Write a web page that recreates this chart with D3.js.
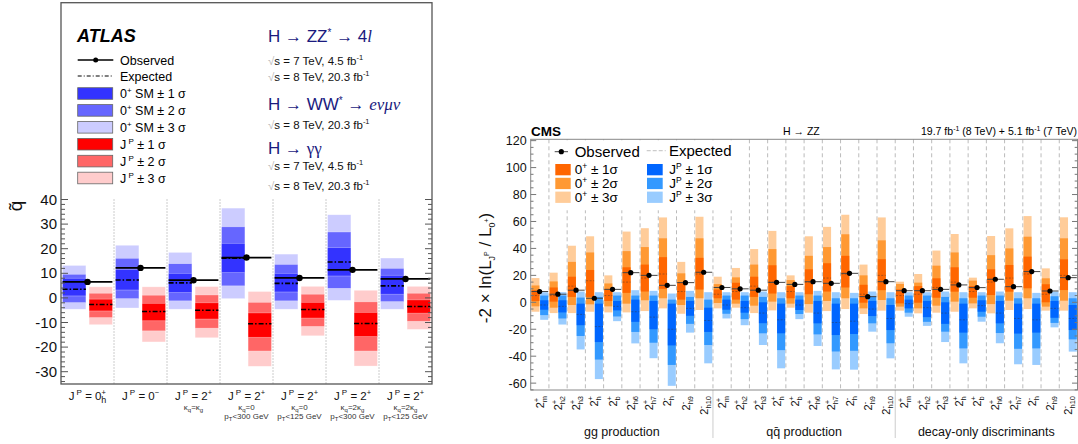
<!DOCTYPE html>
<html><head><meta charset="utf-8">
<script src="https://cdn.jsdelivr.net/npm/d3@7"></script>
<style>
body{margin:0;background:#fff;}
svg{display:block;font-family:"Liberation Sans",Arial,Helvetica,sans-serif;}
</style></head>
<body><svg id="c" width="1078" height="444"></svg>
<script>
// ---------------- ATLAS data ----------------
const atlasCats = ["0h+","0-","2+ kq=kg","2+ kq=0 pT<300","2+ kq=0 pT<125","2+ kq=2kg pT<300","2+ kq=2kg pT<125"];
const atlasLine2 = ["","","κq=κg","κq=0","κq=0","κq=2κg","κq=2κg"];
const atlasLine3 = ["","","","pT<300 GeV","pT<125 GeV","pT<300 GeV","pT<125 GeV"];
const atlasObs   = [6.5, 12.2, 7.2, 16.4, 8.1, 11.4, 7.7];
const atlasSMExp = [3.5, 7.3, 6.1, 16.1, 5.9, 14.6, 4.9];
const atlasSM1 = [[0.8,8.0],[3.2,11.6],[2.2,10.0],[10.3,22.2],[2.4,10.0],[8.9,20.4],[1.5,9.2]];
const atlasSM2 = [[-1.9,9.6],[-0.3,16.1],[-1.2,13.9],[4.9,28.9],[-1.2,13.6],[3.9,26.8],[-1.5,12.0]];
const atlasSM3 = [[-4.6,13.2],[-4.1,21.4],[-4.6,18.5],[-0.3,36.5],[-4.6,17.8],[-1.0,33.8],[-4.6,16.2]];
const atlasAltExp = [-2.7, -5.5, -5.0, -10.5, -4.7, -10.4, -3.5];
const atlasAlt1 = [[-5.3,-0.5],[-9.3,-2.2],[-8.6,-2.0],[-16.0,-6.1],[-8.2,-1.8],[-15.7,-5.9],[-6.2,-0.8]];
const atlasAlt2 = [[-8.0,1.9],[-13.4,1.1],[-12.3,1.2],[-21.6,-1.8],[-11.6,1.5],[-21.6,-1.6],[-9.5,1.9]];
const atlasAlt3 = [[-10.9,4.5],[-17.9,4.5],[-16.2,4.6],[-27.8,2.6],[-15.4,4.7],[-27.7,3.1],[-12.8,4.7]];
const atlasTicks = [-30,-20,-10,0,10,20,30,40];

// ---------------- CMS data ----------------
const cmsSign = ["+","+","+","+","+","+","+","-","-","-"];
const cmsSub  = ["m","h2","h3","h","b","h6","h7","h","h9","h10"];
const cmsProd = ["gg production","qq\u0304 production","decay-only discriminants"];
const cmsObs = [8,6,9,3,9.6,22,20,12.6,14.6,22.3, 11,10,9,14.8,13.3,15.3,14.1,21.5,4.2,15.3, 8.6,8.6,9.6,12.9,10.9,17.1,11.6,22.8,8.4,18.3];
const cmsSMExp = [5,5,12,16,5,15,18,21,8,21, 6,8,12,15,8,15,18,21,6,20, 5,6,11,15,8,15,18,21,6,20];
const cmsSM1 = [[1,9],[0.5,11],[4,19],[4,24],[1,10],[7,26],[8,28],[10,33.5],[2,15],[9.5,33],
                [3,9.5],[2,14.5],[4,19],[6.5,27.5],[3,12],[6,24.5],[8,29],[11,34.5],[-0.3,13],[9,32],
                [-0.8,9.6],[-0.3,12],[3.4,17.8],[7.9,26],[3.4,12.1],[5.4,24.5],[7.9,27.7],[10.4,33.9],[0,13.4],[9.1,31.9]];
const cmsSM2 = [[-3,12.5],[-4,15.5],[-2,30],[-1.5,37],[-3,14],[-1,38],[1.5,41],[3,47.5],[-2,21.5],[3,47.5],
                [-0.5,13.5],[-1,18.5],[-2.5,28],[0.5,39.5],[-1,16.5],[-1.3,34.5],[1,41],[3,50.5],[-4.5,20],[1.7,46],
                [-3.2,13.6],[-4.5,14.6],[-2.5,27.2],[0.5,37],[-0.8,16.1],[-1.3,35],[1.2,40],[3,48.7],[-3.2,17.8],[1.2,47.5]];
const cmsSM3 = [[-7,18],[-8,22],[-8,42],[-7,49],[-7.5,20],[-7.5,52.5],[-6.5,55],[-4.5,63],[-8.5,30],[-5.7,63.5],
                [-4.5,19],[-4,25.5],[-8,39.5],[-6,53],[-4,20],[-7.7,49],[-6.5,56],[-5,65],[-8.7,28],[-6.2,63],
                [-6.2,15.3],[-8.2,21],[-7.7,38.4],[-7,50.7],[-4.5,18.3],[-8.2,49.2],[-5.7,54.9],[-5,64],[-6.2,25.2],[-6.2,63.1]];
const cmsAltExp = [-2,-3,-9,-18,-3,-7,-11,-20,-4.5,-13.5, -2,-4,-8,-13,-2,-8,-15,-14,-5,-12, -1,-4,-8,-13,-2.5,-8,-12,-13,-4.5,-12];
const cmsAlt1 = [[-5.5,1.5],[-7.5,1.5],[-17,-1],[-29.5,-1],[-6,1],[-14.5,2],[-20,1],[-32,-1],[-10,1],[-22,-4],
                 [-5.5,2],[-7.7,1],[-15.5,0],[-23,-1],[-5.7,2],[-15.6,1],[-24.3,-1],[-23.5,-1],[-10.2,1],[-20.6,-2],
                 [-4.5,2],[-11,1],[-16,0],[-22.5,-1],[-7,1.5],[-15.6,1],[-23.2,-1],[-22.5,-1],[-11.5,1],[-20.6,-2]];
const cmsAlt2 = [[-9.5,5],[-12,5],[-25,3.5],[-42.5,4],[-10.5,5],[-22,5],[-30,5],[-46.5,2],[-16,4],[-31.7,2],
                 [-8.5,5],[-12.5,5],[-23,4],[-35.5,3],[-8.7,5],[-23.8,5],[-36.5,3],[-36,3],[-15.6,4.5],[-30.4,3],
                 [-7.7,5],[-14.5,5],[-21.8,4],[-34.2,3],[-10.7,5],[-22.8,5],[-34.5,3],[-34.2,3],[-15.3,4.5],[-27.5,3]];
const cmsAlt3 = [[-13,7.5],[-16.5,7.5],[-35,8],[-57,7.5],[-14,7.5],[-30.5,9],[-41.5,8.5],[-62,6.5],[-22.5,8.5],[-45.3,7.5],
                 [-12,7.5],[-17,7.5],[-31.7,8],[-49,7.5],[-12.5,7.5],[-32.4,8.5],[-49.8,7.5],[-50,7],[-21.8,8],[-41.6,7.5],
                 [-10.7,7.5],[-17.5,7.5],[-29.5,8],[-45.3,7.5],[-14.4,7.5],[-30.4,8],[-46,7.5],[-46.5,7],[-18.6,8],[-36.6,7.5]];
const cmsTicks = [-60,-40,-20,0,20,40,60,80,100,120];

// ---------------- drawing ----------------
const svg = d3.select("#c");

/* ======== ATLAS panel ======== */
const aL=61, aR=432, aT=2.7, aB=384;
const ay = d3.scaleLinear().domain([-35,120]).range([aB,aT]);
const ax = d3.scaleBand().domain(d3.range(atlasCats.length)).range([aL,aR]);
const aw = ax.bandwidth();
const A = svg.append("g");

const smCols = ["#ccccff","#6666ff","#3333ff"], altCols = ["#ffcccc","#ff6666","#ff0000"];
const smBands=[atlasSM3,atlasSM2,atlasSM1], altBands=[atlasAlt3,atlasAlt2,atlasAlt1];
atlasCats.forEach((c,i)=>{
  const x0 = ax(i);
  const bx = x0+0.03*aw, rx = x0+0.53*aw, bw = 0.44*aw;
  smBands.forEach((b,k)=>{
    A.append("rect").attr("x",bx).attr("width",bw).attr("y",ay(b[i][1])).attr("height",ay(b[i][0])-ay(b[i][1]))
      .attr("fill",smCols[k]).attr("stroke","#ffffff").attr("stroke-opacity",0.5).attr("stroke-width",0.6);
  });
  altBands.forEach((b,k)=>{
    A.append("rect").attr("x",rx).attr("width",bw).attr("y",ay(b[i][1])).attr("height",ay(b[i][0])-ay(b[i][1]))
      .attr("fill",altCols[k]).attr("stroke","#ffffff").attr("stroke-opacity",0.5).attr("stroke-width",0.6);
  });
  A.append("line").attr("x1",bx).attr("x2",bx+bw).attr("y1",ay(atlasSMExp[i])).attr("y2",ay(atlasSMExp[i]))
    .attr("stroke","#000").attr("stroke-width",1.6).attr("stroke-dasharray","5,2,1.5,2");
  A.append("line").attr("x1",rx).attr("x2",rx+bw).attr("y1",ay(atlasAltExp[i])).attr("y2",ay(atlasAltExp[i]))
    .attr("stroke","#000").attr("stroke-width",1.6).attr("stroke-dasharray","5,2,1.5,2");
  A.append("line").attr("x1",bx).attr("x2",rx+bw).attr("y1",ay(atlasObs[i])).attr("y2",ay(atlasObs[i]))
    .attr("stroke","#000").attr("stroke-width",1.8);
  A.append("circle").attr("cx",x0+aw/2).attr("cy",ay(atlasObs[i])).attr("r",3.2).attr("fill","#000");
});
// separators
d3.range(1,atlasCats.length).forEach(i=>{
  A.append("line").attr("x1",ax(i)).attr("x2",ax(i)).attr("y1",ay(40)).attr("y2",aB)
   .attr("stroke","#999").attr("stroke-width",1).attr("stroke-dasharray","1,2");
});
// frame
A.append("rect").attr("x",aL).attr("y",aT).attr("width",aR-aL).attr("height",aB-aT)
  .attr("fill","none").attr("stroke","#555").attr("stroke-width",1.3);
// ticks
d3.range(-34,41,2).forEach(v=>{
  const major = v%10===0;
  const len = major?7:4;
  A.append("line").attr("x1",aL).attr("x2",aL+len).attr("y1",ay(v)).attr("y2",ay(v)).attr("stroke","#555");
  A.append("line").attr("x1",aR).attr("x2",aR-len).attr("y1",ay(v)).attr("y2",ay(v)).attr("stroke","#555");
});
atlasTicks.forEach(v=>{
  A.append("text").attr("x",aL-4).attr("y",ay(v)+5).attr("text-anchor","end").attr("font-size",15).attr("fill","#111").text(v);
});
// y label q~
A.append("text").attr("transform","translate(22,206) rotate(-90)").attr("text-anchor","middle").attr("font-size",19).attr("fill","#111").text("q\u0303");
// x labels
atlasCats.forEach((c,i)=>{
  const cx = ax(i)+aw/2;
  const t = A.append("text").attr("x",cx).attr("y",400).attr("text-anchor","middle").attr("font-size",11.5).attr("fill","#111");
  t.append("tspan").text("J");
  t.append("tspan").attr("font-size",8).attr("dy",-5).text(" P");
  if(i===0){
    t.append("tspan").attr("dy",5).text(" = 0");
    t.append("tspan").attr("font-size",7.5).attr("dy",-5).text("+");
    t.append("tspan").attr("font-size",9).attr("dx",-4.5).attr("dy",8).text("h");
  } else if(i===1){
    t.append("tspan").attr("dy",5).text(" = 0");
    t.append("tspan").attr("font-size",7.5).attr("dy",-5).text("\u2212");
  } else {
    t.append("tspan").attr("dy",5).text(" = 2");
    t.append("tspan").attr("font-size",7.5).attr("dy",-5).text("+");
  }
  if(atlasLine2[i]){
    const s = A.append("text").attr("x",cx).attr("y",410).attr("text-anchor","middle").attr("font-size",8).attr("fill","#333");
    const rhs = atlasLine2[i].split("=")[1];
    s.append("tspan").text("κ");
    s.append("tspan").attr("font-size",6).attr("dy",2).text("q");
    if(rhs.indexOf("κ")>=0){
      s.append("tspan").attr("dy",-2).text("=" + rhs.replace("g",""));
      s.append("tspan").attr("font-size",6).attr("dy",2).text("g");
    } else {
      s.append("tspan").attr("dy",-2).text("=" + rhs);
    }
  }
  if(atlasLine3[i]){
    const s = A.append("text").attr("x",cx).attr("y",419).attr("text-anchor","middle").attr("font-size",8).attr("fill","#333");
    s.append("tspan").text("p");
    s.append("tspan").attr("font-size",6).attr("dy",2).text("T");
    s.append("tspan").attr("dy",-2).text(atlasLine3[i].slice(2));
  }
});
// legend
A.append("text").attr("x",77).attr("y",42).attr("font-size",18).attr("font-weight","bold").attr("font-style","italic").attr("fill","#000").text("ATLAS");
A.append("line").attr("x1",77.7).attr("x2",113.3).attr("y1",60).attr("y2",60).attr("stroke","#000").attr("stroke-width",1.5);
A.append("circle").attr("cx",95.7).attr("cy",60).attr("r",2.5).attr("fill","#000");
A.append("text").attr("x",120).attr("y",64.5).attr("font-size",12.5).text("Observed");
A.append("line").attr("x1",77.7).attr("x2",113.3).attr("y1",76).attr("y2",76).attr("stroke","#000").attr("stroke-width",1.2).attr("stroke-dasharray","4,2,1,2");
A.append("text").attr("x",120).attr("y",81).attr("font-size",12.5).text("Expected");
const legCols = ["#3333ff","#6666ff","#ccccff","#ff0000","#ff6666","#ffcccc"];
legCols.forEach((col,k)=>{
  const y0 = 87.7 + k*16.9;
  A.append("rect").attr("x",77.7).attr("y",y0).attr("width",35).attr("height",11.6).attr("fill",col).attr("stroke","#666").attr("stroke-width",0.8);
  const t = A.append("text").attr("x",120).attr("y",y0+10.3).attr("font-size",12.5);
  const n = (k%3)+1;
  if(k<3){
    t.append("tspan").text("0");
    t.append("tspan").attr("font-size",8).attr("dy",-5).text("+");
    t.append("tspan").attr("dy",5).text(" SM \u00b1 "+n+" \u03c3");
  } else {
    t.append("tspan").text("J");
    t.append("tspan").attr("font-size",8).attr("dy",-5).text(" P");
    t.append("tspan").attr("dy",5).text(" \u00b1 "+n+" \u03c3");
  }
});
// channel texts
const navy = "#1a1a7e";
function sq(y, txt){
  const t = A.append("text").attr("x",268).attr("y",y).attr("font-size",11.5).attr("fill","#111");
  t.append("tspan").attr("fill","#bbb").text("\u221a");
  t.append("tspan").text("s = "+txt+" fb");
  t.append("tspan").attr("font-size",7.5).attr("dy",-5).text("-1");
}
{
  const t = A.append("text").attr("x",268).attr("y",42).attr("font-size",17).attr("fill",navy);
  t.append("tspan").text("H \u2192 ZZ");
  t.append("tspan").attr("font-size",10).attr("dy",-6).text("*");
  t.append("tspan").attr("dy",6).text(" \u2192 4");
  t.append("tspan").attr("font-style","italic").attr("font-family","Liberation Serif, serif").text("l");
}
sq(65,"7 TeV, 4.5"); sq(81,"8 TeV, 20.3");
{
  const t = A.append("text").attr("x",268).attr("y",109.5).attr("font-size",17).attr("fill",navy);
  t.append("tspan").text("H \u2192 WW");
  t.append("tspan").attr("font-size",10).attr("dy",-6).text("*");
  t.append("tspan").attr("dy",6).text(" \u2192 ");
  t.append("tspan").attr("font-style","italic").attr("font-family","Liberation Serif, serif").text("e\u03bd\u03bc\u03bd");
}
sq(128.5,"8 TeV, 20.3");
{
  const t = A.append("text").attr("x",268).attr("y",153.5).attr("font-size",17).attr("fill",navy);
  t.append("tspan").text("H \u2192 ");
  t.append("tspan").attr("font-family","Liberation Serif, serif").text("\u03b3\u03b3");
}
sq(170,"7 TeV, 4.5"); sq(189.5,"8 TeV, 20.3");

/* ======== CMS panel ======== */
const cL=530.7, cR=1077.5, cT=139.3, cB=390;
const cy = d3.scaleLinear().domain([-65.1,121]).range([cB,cT]);
const N = cmsObs.length;
const cx = d3.scaleBand().domain(d3.range(N)).range([cL,cR]);
const cw = cx.bandwidth();
const C = svg.append("g");
const oCols = ["#ffcc99","#ff9933","#ff6600"], bCols = ["#99ccff","#3399ff","#0066ff"];
const oB=[cmsSM3,cmsSM2,cmsSM1], bB=[cmsAlt3,cmsAlt2,cmsAlt1];

d3.range(1,N).forEach(i=>{
  C.append("line").attr("x1",cx(i)).attr("x2",cx(i)).attr("y1",cT).attr("y2",cB)
   .attr("stroke","#bbb").attr("stroke-width",1).attr("stroke-dasharray","4,3");
});
[10,20].forEach(i=>{
  C.append("line").attr("x1",cx(i)).attr("x2",cx(i)).attr("y1",cB).attr("y2",438).attr("stroke","#ccc").attr("stroke-width",1);
});
for(let i=0;i<N;i++){
  const x0=cx(i);
  const ox = x0+0.04*cw, bx=x0+0.52*cw, bw=0.44*cw;
  oB.forEach((b,k)=>{
    C.append("rect").attr("x",ox).attr("width",bw).attr("y",cy(b[i][1])).attr("height",cy(b[i][0])-cy(b[i][1])).attr("fill",oCols[k]);
  });
  bB.forEach((b,k)=>{
    C.append("rect").attr("x",bx).attr("width",bw).attr("y",cy(b[i][1])).attr("height",cy(b[i][0])-cy(b[i][1])).attr("fill",bCols[k]);
  });
  C.append("line").attr("x1",ox).attr("x2",ox+bw).attr("y1",cy(cmsSMExp[i])).attr("y2",cy(cmsSMExp[i]))
    .attr("stroke","#333").attr("stroke-opacity",0.6).attr("stroke-width",0.7).attr("stroke-dasharray","2,1.5");
  C.append("line").attr("x1",bx).attr("x2",bx+bw).attr("y1",cy(cmsAltExp[i])).attr("y2",cy(cmsAltExp[i]))
    .attr("stroke","#333").attr("stroke-opacity",0.6).attr("stroke-width",0.7).attr("stroke-dasharray","2,1.5");
  C.append("line").attr("x1",ox).attr("x2",bx+bw).attr("y1",cy(cmsObs[i])).attr("y2",cy(cmsObs[i]))
    .attr("stroke","#444").attr("stroke-width",1);
  C.append("circle").attr("cx",x0+0.49*cw).attr("cy",cy(cmsObs[i])).attr("r",2.6).attr("fill","#000");
}
// legend
C.append("rect").attr("x",551).attr("y",cT+1).attr("width",192).attr("height",70).attr("fill","#fff");
C.append("line").attr("x1",554.7).attr("x2",568).attr("y1",151.7).attr("y2",151.7).attr("stroke","#444").attr("stroke-width",1);
C.append("circle").attr("cx",561.3).attr("cy",151.7).attr("r",2.6).attr("fill","#000");
C.append("text").attr("x",574.7).attr("y",157).attr("font-size",15).text("Observed");
C.append("line").attr("x1",646.7).attr("x2",665.7).attr("y1",150.7).attr("y2",150.7).attr("stroke","#ccc").attr("stroke-width",1.2).attr("stroke-dasharray","4,2");
C.append("text").attr("x",669).attr("y",156).attr("font-size",15).text("Expected");
[0,1,2].forEach(k=>{
  const y0 = 164 + k*13.8;
  C.append("rect").attr("x",555.3).attr("y",y0).attr("width",15.4).attr("height",11.3).attr("fill",oCols[2-k]);
  C.append("rect").attr("x",647).attr("y",y0).attr("width",15.7).attr("height",11.3).attr("fill",bCols[2-k]);
  const t = C.append("text").attr("x",574.7).attr("y",y0+10).attr("font-size",13.5);
  t.append("tspan").text("0"); t.append("tspan").attr("font-size",8.5).attr("dy",-5).text("+");
  t.append("tspan").attr("dy",5).text(" \u00b1 "+(k+1)+"\u03c3");
  const u = C.append("text").attr("x",669.3).attr("y",y0+10).attr("font-size",13.5);
  u.append("tspan").text("J"); u.append("tspan").attr("font-size",8.5).attr("dy",-5).text("P");
  u.append("tspan").attr("dy",5).text(" \u00b1 "+(k+1)+"\u03c3");
});
// frame + ticks
C.append("rect").attr("x",cL).attr("y",cT).attr("width",cR-cL).attr("height",cB-cT).attr("fill","none").attr("stroke","#888").attr("stroke-width",1);
d3.range(-65,121,5).forEach(v=>{
  const major = v%20===0;
  const len = major?5.5:2.8;
  C.append("line").attr("x1",cL).attr("x2",cL+len).attr("y1",cy(v)).attr("y2",cy(v)).attr("stroke","#777");
  C.append("line").attr("x1",cR).attr("x2",cR-len).attr("y1",cy(v)).attr("y2",cy(v)).attr("stroke","#777");
});
cmsTicks.forEach(v=>{
  C.append("text").attr("x",cL-4).attr("y",cy(v)+4.5).attr("text-anchor","end").attr("font-size",12.5).attr("fill","#111").text(v);
});
{
  const t = C.append("text").attr("transform","translate(491,268) rotate(-90)").attr("text-anchor","middle").attr("font-size",17).attr("fill","#111");
  t.append("tspan").text("-2 \u00d7 ln(L");
  t.append("tspan").attr("font-size",9).attr("dy",4).text("J");
  t.append("tspan").attr("font-size",7).attr("dy",-6).text("P");
  t.append("tspan").attr("dy",2).text(" / L");
  t.append("tspan").attr("font-size",9).attr("dy",4).text("0");
  t.append("tspan").attr("font-size",7).attr("dy",-6).text("+");
  t.append("tspan").attr("dy",2).text(")");
}
C.append("text").attr("x",531).attr("y",136).attr("font-size",13.5).attr("font-weight","bold").text("CMS");
C.append("text").attr("x",783).attr("y",135).attr("font-size",10.5).text("H \u2192 ZZ");
{
  const t = C.append("text").attr("x",1077).attr("y",135).attr("text-anchor","end").attr("font-size",10.5);
  t.append("tspan").text("19.7 fb");
  t.append("tspan").attr("font-size",7).attr("dy",-4).text("-1");
  t.append("tspan").attr("dy",4).text(" (8 TeV) + 5.1 fb");
  t.append("tspan").attr("font-size",7).attr("dy",-4).text("-1");
  t.append("tspan").attr("dy",4).text(" (7 TeV)");
}
for(let i=0;i<N;i++){
  const j=i%10;
  const xc = cx(i)+cw/2+4;
  const t = C.append("text").attr("transform",`translate(${xc},396) rotate(-90)`).attr("text-anchor","end").attr("font-size",11).attr("fill","#111");
  t.append("tspan").text("2");
  t.append("tspan").attr("font-size",7.5).attr("dy",-5).text(cmsSign[j]==="+"?"+":"-");
  t.append("tspan").attr("font-size",7.5).attr("dx",cmsSign[j]==="+"?-4.5:-2.5).attr("dy",8).text(cmsSub[j]);
}
cmsProd.forEach((p,k)=>{
  const mid = (cx(k*10)+cx(k*10+9)+cw)/2;
  C.append("text").attr("x",mid).attr("y",436).attr("text-anchor","middle").attr("font-size",12.5).attr("fill","#111").text(p);
});
</script></body></html>
